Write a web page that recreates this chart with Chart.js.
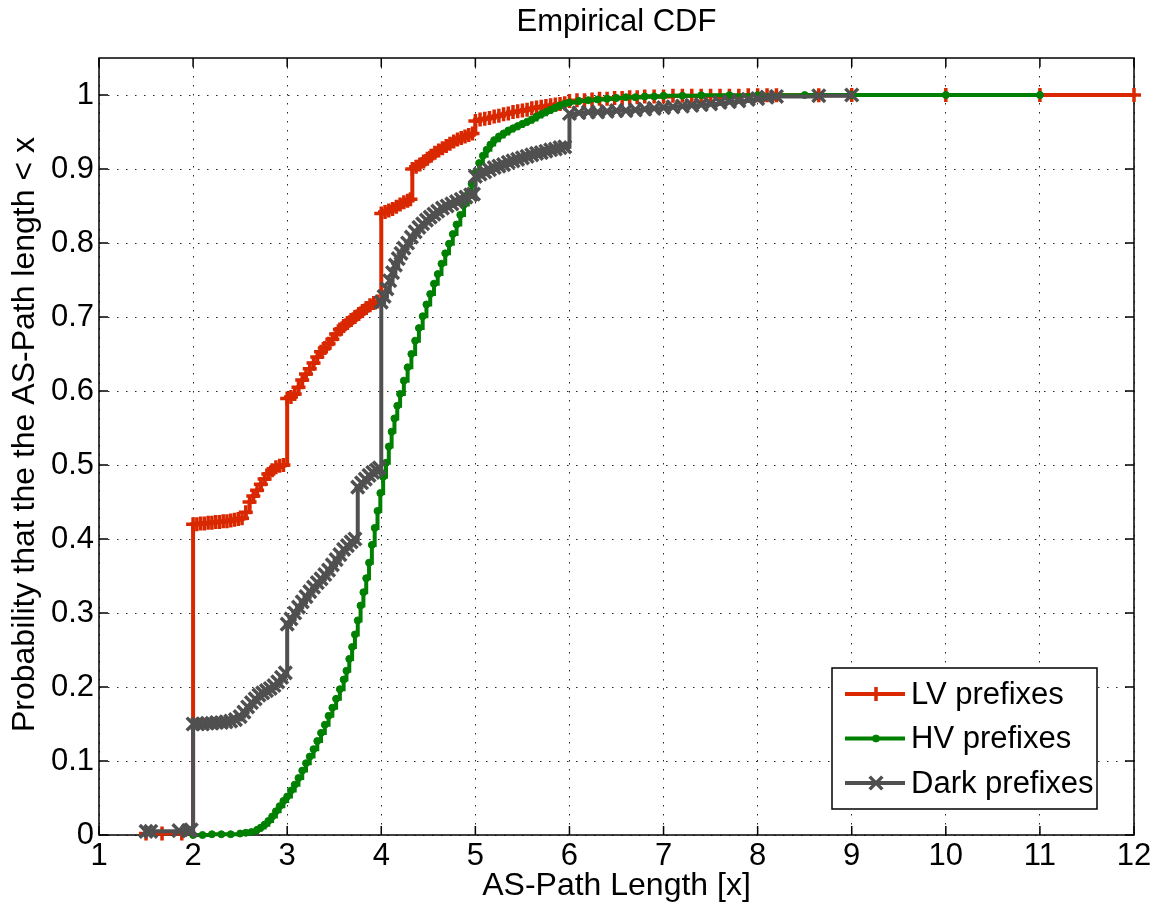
<!DOCTYPE html>
<html>
<head>
<meta charset="utf-8">
<title>Empirical CDF</title>
<script src="https://cdn.jsdelivr.net/npm/chart.js@4.4.0/dist/chart.umd.min.js"></script>
<style>
  html, body { margin: 0; padding: 0; background: #fff; }
  canvas { display: block; }
</style>
</head>
<body>
<canvas id="cdf" width="1155" height="909"></canvas>
<script>
// axis ticks
const xTicks = [1, 2, 3, 4, 5, 6, 7, 8, 9, 10, 11, 12];
const yTicks = [0, 0.1, 0.2, 0.3, 0.4, 0.5, 0.6, 0.7, 0.8, 0.9, 1];
const yTickLabels = ["0", "0.1", "0.2", "0.3", "0.4", "0.5", "0.6", "0.7", "0.8", "0.9", "1"];

const seriesNames = ["LV prefixes", "HV prefixes", "Dark prefixes"];
const yAxisTitle = "Probability that the the AS-Path length < x";

// LV prefixes
const lvX = [1.5, 1.67, 1.88,
  2.00, 2.04, 2.08, 2.12, 2.16, 2.20, 2.24, 2.28, 2.32, 2.36, 2.40, 2.44, 2.48, 2.52, 2.56, 2.60, 2.64, 2.68, 2.72, 2.76, 2.80, 2.84, 2.88, 2.92, 2.96,
  3.00, 3.04, 3.08, 3.12, 3.16, 3.20, 3.24, 3.28, 3.32, 3.36, 3.40, 3.44, 3.48, 3.52, 3.56, 3.60, 3.64, 3.68, 3.72, 3.76, 3.80, 3.84, 3.88, 3.92, 3.96,
  4.00, 4.04, 4.08, 4.12, 4.16, 4.20, 4.24, 4.28, 4.31,
  4.33, 4.37, 4.41, 4.45, 4.49, 4.53, 4.57, 4.61, 4.65, 4.69, 4.73, 4.77, 4.81, 4.85, 4.89, 4.93, 4.97,
  5.00, 5.05, 5.10, 5.15, 5.20, 5.25, 5.30, 5.35, 5.40, 5.45, 5.50, 5.55, 5.60, 5.65, 5.70, 5.75, 5.80, 5.85, 5.90, 5.95,
  6.00, 6.08, 6.16, 6.24, 6.32, 6.40, 6.48, 6.56, 6.64, 6.72, 6.80, 6.90, 7.00, 7.10, 7.20, 7.30, 7.40, 7.50, 7.60, 7.70, 7.80, 7.90, 8.00, 8.10, 8.20,
  8.65, 9.0, 10, 11, 12];
const lvY = [0.002, 0.002, 0.002,
  0.420, 0.420, 0.421, 0.421, 0.422, 0.422, 0.423, 0.423, 0.424, 0.424, 0.425, 0.426, 0.427, 0.428, 0.436, 0.450, 0.458, 0.466, 0.474, 0.481, 0.488, 0.493, 0.497, 0.499, 0.500,
  0.590, 0.592, 0.596, 0.605, 0.615, 0.623, 0.630, 0.638, 0.646, 0.653, 0.658, 0.664, 0.670, 0.677, 0.683, 0.688, 0.692, 0.696, 0.700, 0.704, 0.708, 0.712, 0.716, 0.719, 0.721,
  0.840, 0.842, 0.844, 0.846, 0.849, 0.852, 0.855, 0.857, 0.859,
  0.900, 0.903, 0.906, 0.910, 0.914, 0.918, 0.922, 0.925, 0.928, 0.931, 0.934, 0.937, 0.940, 0.942, 0.944, 0.946, 0.948,
  0.965, 0.967, 0.968, 0.969, 0.971, 0.972, 0.974, 0.975, 0.977, 0.978, 0.979, 0.980, 0.982, 0.983, 0.984, 0.985, 0.986, 0.987, 0.988, 0.989,
  0.992, 0.993, 0.993, 0.994, 0.995, 0.995, 0.996, 0.996, 0.997, 0.997, 0.998, 0.998, 0.998, 0.999, 0.999, 0.999, 0.999, 0.999, 0.999, 0.999, 0.999, 0.9995, 0.9995, 0.9995, 0.9997,
  0.9998, 1, 1, 1, 1];

// HV prefixes
const hvX = [2.00, 2.10, 2.20, 2.30, 2.40, 2.50, 2.56, 2.62, 2.68, 2.72, 2.76, 2.80, 2.84, 2.88, 2.92, 2.96,
  3.00, 3.04, 3.08, 3.12, 3.16, 3.20, 3.24, 3.28, 3.32, 3.36, 3.40, 3.44, 3.48, 3.52, 3.56, 3.60, 3.63, 3.66, 3.69, 3.72, 3.75, 3.78, 3.81, 3.84, 3.87, 3.90, 3.93, 3.96, 3.99,
  4.02, 4.05, 4.08, 4.11, 4.14, 4.17, 4.20, 4.24, 4.28, 4.32, 4.36, 4.40, 4.44, 4.48, 4.52, 4.56, 4.60, 4.64, 4.68, 4.72, 4.76, 4.80, 4.84, 4.88, 4.92, 4.96,
  5.00, 5.04, 5.08, 5.12, 5.16, 5.20, 5.25, 5.30, 5.35, 5.40, 5.45, 5.50, 5.55, 5.60, 5.65, 5.70, 5.75, 5.80, 5.85, 5.90, 5.95,
  6.00, 6.10, 6.20, 6.30, 6.40, 6.50, 6.60, 6.70, 6.80, 6.90, 7.00, 7.20, 7.40, 7.70, 8.00, 8.50, 9.0, 10, 11];
const hvY = [0.000, 0.000, 0.001, 0.001, 0.001, 0.002, 0.003, 0.004, 0.007, 0.010, 0.014, 0.019, 0.025, 0.032, 0.039, 0.046,
  0.052, 0.060, 0.068, 0.077, 0.087, 0.097, 0.106, 0.116, 0.127, 0.138, 0.149, 0.161, 0.172, 0.184, 0.197, 0.210, 0.222, 0.238, 0.254, 0.271, 0.290, 0.310, 0.328, 0.347, 0.368, 0.392, 0.415, 0.438, 0.462,
  0.484, 0.503, 0.525, 0.545, 0.563, 0.580, 0.596, 0.614, 0.632, 0.650, 0.668, 0.685, 0.701, 0.717, 0.731, 0.745, 0.758, 0.772, 0.786, 0.799, 0.812, 0.825, 0.838, 0.852, 0.866, 0.880,
  0.895, 0.908, 0.918, 0.926, 0.933, 0.939, 0.944, 0.948, 0.952, 0.955, 0.958, 0.961, 0.964, 0.967, 0.971, 0.974, 0.977, 0.980, 0.983, 0.986, 0.988,
  0.990, 0.992, 0.993, 0.994, 0.995, 0.996, 0.997, 0.997, 0.998, 0.998, 0.999, 0.999, 0.9995, 0.9997, 0.9998, 0.9999, 1, 1, 1];

// Dark prefixes
const darkX = [1.50, 1.55, 1.85, 1.95, 1.98,
  2.00, 2.05, 2.10, 2.15, 2.20, 2.25, 2.30, 2.35, 2.40, 2.45, 2.50, 2.54, 2.58, 2.62, 2.66, 2.70, 2.74, 2.78, 2.82, 2.86, 2.90, 2.94, 2.98,
  3.00, 3.04, 3.08, 3.12, 3.16, 3.20, 3.24, 3.28, 3.32, 3.36, 3.40, 3.44, 3.48, 3.52, 3.56, 3.60, 3.64, 3.68, 3.72,
  3.75, 3.79, 3.83, 3.87, 3.91, 3.95, 3.98,
  4.00, 4.03, 4.06, 4.09, 4.12, 4.15, 4.18, 4.21, 4.24, 4.28, 4.32, 4.36, 4.40, 4.44, 4.48, 4.52, 4.56, 4.60, 4.65, 4.70, 4.75, 4.80, 4.85, 4.90, 4.95, 4.98,
  5.00, 5.05, 5.10, 5.15, 5.20, 5.25, 5.30, 5.35, 5.40, 5.45, 5.50, 5.55, 5.60, 5.65, 5.70, 5.75, 5.80, 5.85, 5.90, 5.95,
  6.00, 6.10, 6.20, 6.30, 6.40, 6.50, 6.60, 6.70, 6.80, 6.90, 7.00, 7.10, 7.20, 7.30, 7.40, 7.50, 7.60, 7.70, 7.80, 7.90, 8.00, 8.10, 8.20, 8.65, 9.0];
const darkY = [0.005, 0.005, 0.006, 0.006, 0.007,
  0.150, 0.150, 0.150, 0.151, 0.151, 0.152, 0.152, 0.153, 0.154, 0.156, 0.160, 0.166, 0.173, 0.179, 0.184, 0.189, 0.192, 0.195, 0.198, 0.202, 0.207, 0.213, 0.219,
  0.285, 0.292, 0.300, 0.308, 0.315, 0.322, 0.329, 0.335, 0.341, 0.346, 0.352, 0.358, 0.365, 0.372, 0.379, 0.386, 0.391, 0.396, 0.400,
  0.470, 0.476, 0.481, 0.486, 0.490, 0.493, 0.496,
  0.720, 0.728, 0.738, 0.749, 0.760, 0.770, 0.779, 0.786, 0.793, 0.800, 0.808, 0.815, 0.821, 0.826, 0.831, 0.835, 0.839, 0.843, 0.847, 0.850, 0.853, 0.856, 0.859, 0.862, 0.865, 0.866,
  0.890, 0.893, 0.896, 0.899, 0.902, 0.904, 0.906, 0.909, 0.911, 0.913, 0.915, 0.917, 0.919, 0.921, 0.922, 0.924, 0.926, 0.927, 0.929, 0.930,
  0.975, 0.976, 0.977, 0.977, 0.978, 0.979, 0.979, 0.980, 0.981, 0.982, 0.983, 0.984, 0.985, 0.986, 0.987, 0.988, 0.990, 0.991, 0.992, 0.994, 0.995, 0.997, 0.998, 0.999, 1];

const FONT = '"Liberation Sans", Arial, Helvetica, sans-serif';

function pairs(xs, ys) {
  return xs.map((x, i) => ({ x: x, y: ys[i] }));
}

// box round the axes with inward ticks on all four sides, plus the y title
const axesBox = {
  id: 'axesBox',
  beforeDatasetsDraw(chart) {
    const { ctx, chartArea: a, scales } = chart;
    ctx.save();
    ctx.strokeStyle = '#000';
    ctx.lineWidth = 1.5;
    ctx.beginPath();
    xTicks.forEach(v => {
      const p = scales.x.getPixelForValue(v);
      ctx.moveTo(p, a.bottom); ctx.lineTo(p, a.bottom - 9);
      ctx.moveTo(p, a.top); ctx.lineTo(p, a.top + 9);
    });
    yTicks.forEach(v => {
      const p = scales.y.getPixelForValue(v);
      ctx.moveTo(a.left, p); ctx.lineTo(a.left + 9, p);
      ctx.moveTo(a.right, p); ctx.lineTo(a.right - 9, p);
    });
    ctx.stroke();
    ctx.strokeRect(a.left, a.top, a.right - a.left, a.bottom - a.top);

    ctx.translate(a.left - 74, (a.top + a.bottom) / 2 - 12);
    ctx.rotate(-Math.PI / 2);
    ctx.fillStyle = '#000';
    ctx.font = '32px ' + FONT;
    ctx.textAlign = 'center';
    ctx.textBaseline = 'middle';
    ctx.fillText(yAxisTitle, 0, 0);
    ctx.restore();
  }
};

// legend drawn inside the axes, lower right
const boxLegend = {
  id: 'boxLegend',
  afterDraw(chart) {
    const { ctx, chartArea: a } = chart;
    const w = 265, h = 141;
    const x0 = a.right - 37 - w, y0 = a.bottom - 26 - h;
    ctx.save();
    ctx.fillStyle = '#fff';
    ctx.fillRect(x0, y0, w, h);
    ctx.lineWidth = 1.5;
    ctx.strokeStyle = '#000';
    ctx.strokeRect(x0, y0, w, h);
    ctx.font = '31px ' + FONT;
    ctx.textBaseline = 'middle';
    chart.data.datasets.forEach((ds, i) => {
      const y = y0 + 26 + i * 44.5;
      ctx.strokeStyle = ds.borderColor;
      ctx.lineWidth = ds.borderWidth;
      ctx.beginPath();
      ctx.moveTo(x0 + 13, y);
      ctx.lineTo(x0 + 73, y);
      ctx.stroke();
      ctx.strokeStyle = ds.pointBorderColor;
      ctx.fillStyle = ds.pointBackgroundColor;
      ctx.lineWidth = ds.pointBorderWidth;
      Chart.helpers.drawPoint(ctx, {
        pointStyle: ds.pointStyle, radius: ds.pointRadius,
        borderWidth: ds.pointBorderWidth, rotation: 0
      }, x0 + 44, y);
      ctx.fillStyle = '#000';
      ctx.fillText(ds.label, x0 + 79, y + 1);
    });
    ctx.restore();
  }
};

const red = '#d92800', green = '#008000', grey = '#505050';

new Chart(document.getElementById('cdf'), {
  type: 'scatter',
  data: {
    datasets: [
      {
        label: seriesNames[0], data: pairs(lvX, lvY), order: 2,
        borderColor: red, borderWidth: 4, showLine: true, stepped: true,
        pointStyle: 'cross', pointRadius: 7, pointBorderWidth: 3.5,
        pointBorderColor: red, pointBackgroundColor: red, clip: false
      },
      {
        label: seriesNames[1], data: pairs(hvX, hvY), order: 1,
        borderColor: green, borderWidth: 4, showLine: true, stepped: true,
        pointStyle: 'circle', pointRadius: 3.5, pointBorderWidth: 1,
        pointBorderColor: green, pointBackgroundColor: green, clip: false
      },
      {
        label: seriesNames[2], data: pairs(darkX, darkY), order: 0,
        borderColor: grey, borderWidth: 4, showLine: true, stepped: true,
        pointStyle: 'crossRot', pointRadius: 9, pointBorderWidth: 3.5,
        pointBorderColor: grey, pointBackgroundColor: grey, clip: false
      }
    ]
  },
  options: {
    responsive: false,
    animation: false,
    layout: { padding: { left: 0, right: 21, top: 0, bottom: 0 } },
    plugins: {
      legend: { display: false },
      tooltip: { enabled: false },
      title: {
        display: true, text: 'Empirical CDF', fullSize: false,
        color: '#000', font: { family: FONT, size: 31, weight: 'normal', lineHeight: 1.2 },
        padding: { top: 3.5, bottom: 17.3 }
      }
    },
    scales: {
      x: {
        type: 'linear', min: 1, max: 12,
        afterBuildTicks: s => { s.ticks = xTicks.map(v => ({ value: v })); },
        afterFit: s => { s.height = 74; s.paddingLeft = 0; s.paddingRight = 0; },
        ticks: { color: '#000', padding: 3, font: { family: FONT, size: 31 }, callback: v => String(v) },
        grid: { color: 'rgba(0,0,0,0.85)', lineWidth: 1, drawTicks: false },
        border: { display: false, dash: [1.5, 7.5] },
        title: {
          display: true, text: 'AS-Path Length [x]', color: '#000',
          font: { family: FONT, size: 32, lineHeight: 1.2 }, padding: { top: 0, bottom: 4 }
        }
      },
      y: {
        type: 'linear', min: 0, max: 1.05,
        afterBuildTicks: s => { s.ticks = yTicks.map(v => ({ value: v })); },
        afterFit: s => { s.width = 99; s.paddingTop = 0; s.paddingBottom = 0; },
        ticks: {
          color: '#000', padding: 5, font: { family: FONT, size: 31 },
          callback: (v, i) => yTickLabels[i]
        },
        grid: { color: 'rgba(0,0,0,0.85)', lineWidth: 1, drawTicks: false },
        border: { display: false, dash: [1.5, 7.5] },
        title: { display: false }
      }
    }
  },
  plugins: [axesBox, boxLegend]
});
</script>
</body>
</html>
